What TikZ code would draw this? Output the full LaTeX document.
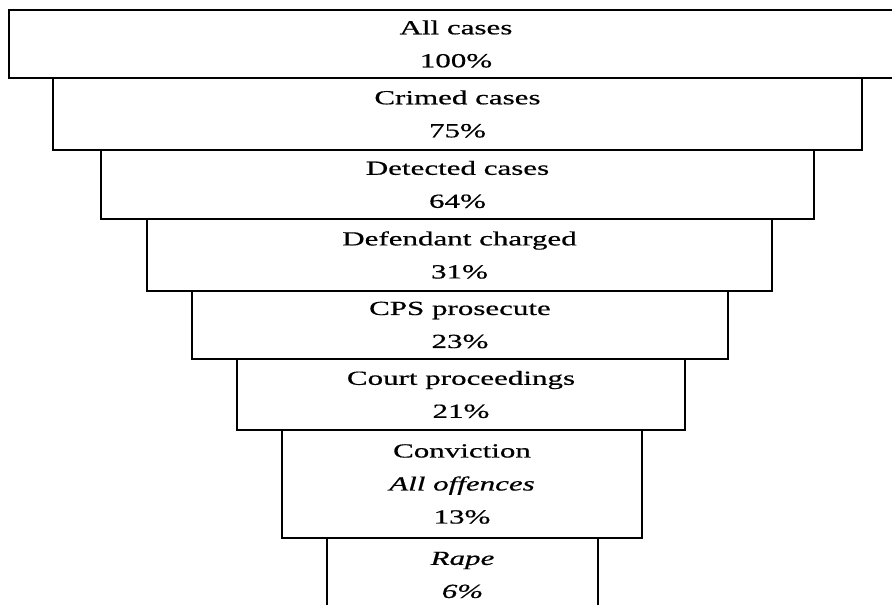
\documentclass[tikz,border=0pt]{standalone}
\usepackage{fontspec}
\setmainfont{Liberation Serif}[FakeStretch=1.55,FakeBold=0.6]
\begin{document}
\begin{tikzpicture}[x=1pt,y=-1pt,
  stage/.style={draw=black, line width=2.4pt, fill=white, inner sep=0pt, align=center,
    font=\fontsize{20}{33}\selectfont}]
\useasboundingbox (0,0) rectangle (892,605);
\clip (0,0) rectangle (892,605);
\fill[white] (0,0) rectangle (892,605);
\node[stage, minimum width=894pt, minimum height=68pt] (all) at (456,44) {All cases\\100\%};
\node[stage, minimum width=809pt, minimum height=72pt] (crimed) at (457.5,114) {Crimed cases\\75\%};
\node[stage, minimum width=713pt, minimum height=69pt] (detected) at (457.5,184.5) {Detected cases\\64\%};
\node[stage, minimum width=625pt, minimum height=72pt] (charged) at (459.5,255) {Defendant charged\\31\%};
\node[stage, minimum width=536pt, minimum height=68pt] (cps) at (460,325) {CPS prosecute\\23\%};
\node[stage, minimum width=448pt, minimum height=71pt] (court) at (461,394.5) {Court proceedings\\21\%};
\node[stage, minimum width=360pt, minimum height=108pt] (conv) at (462,484) {Conviction\\\textit{All offences}\\13\%};
\node[stage, minimum width=271pt, minimum height=74pt] (rape) at (462.5,575) {\textit{Rape}\\\textit{6\%}};
\end{tikzpicture}
\end{document}
